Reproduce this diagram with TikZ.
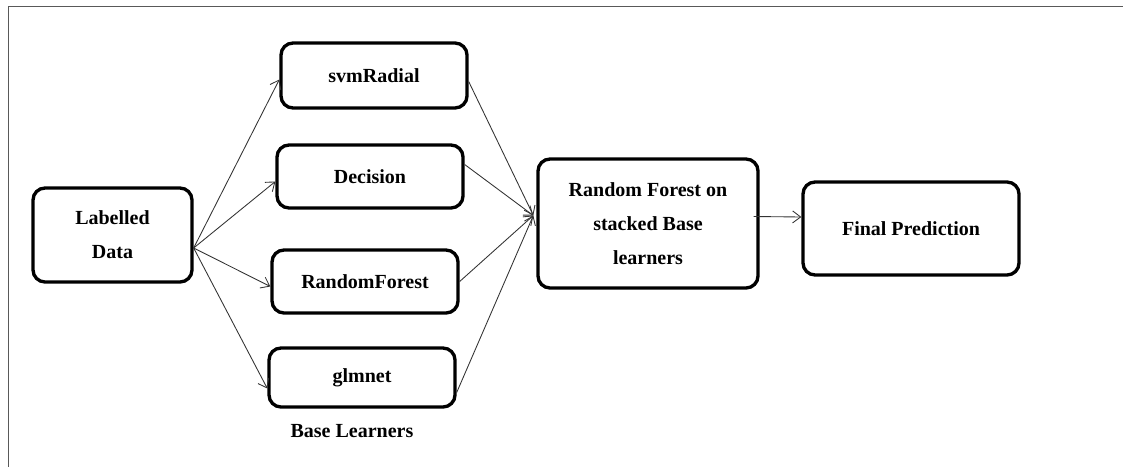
\documentclass[tikz,border=0pt]{standalone}
\usepackage{fontspec}
\setmainfont{Liberation Serif}
\usetikzlibrary{arrows.meta}

\begin{document}
\begin{tikzpicture}[x=0.75pt,y=-0.75pt,
  box/.style={draw=black, line width=2.5pt, rounded corners=9pt, align=center,
    font=\fontsize{15}{25.5}\selectfont\bfseries, inner sep=0pt},
  link/.style={draw=black!80, line width=0.65pt, -{Straight Barb[length=6pt,width=9pt,line width=0.65pt]}},
  frameline/.style={draw=black!65, line width=1.2pt}]
  \useasboundingbox (0,0) rectangle (1123,467);

  % outer frame (top and left edges)
  \draw[frameline] (8.5,467) -- (8.5,6.5) -- (1123,6.5);

  % input data
  \node[box, minimum width=159*0.75pt, minimum height=94*0.75pt] (ld) at (112.5,235) {Labelled\\Data};

  % base learners
  \node[box, minimum width=186*0.75pt, minimum height=65*0.75pt] (svm) at (374,75.5) {svmRadial};
  \node[box, minimum width=186*0.75pt, minimum height=63*0.75pt] (dec) at (370,176.5) {Decision};
  \node[box, minimum width=186*0.75pt, minimum height=63*0.75pt] (rf)  at (365,281.5) {RandomForest};
  \node[box, minimum width=186*0.75pt, minimum height=59*0.75pt] (glm) at (362,377.5) {glmnet};
  \node[font=\fontsize{15}{18}\selectfont\bfseries] (bl) at (352,431) {Base Learners};

  % meta learner and output
  \node[box, minimum width=220*0.75pt, minimum height=129*0.75pt] (stk) at (648,223.5)
    {Random Forest on\\stacked Base\\learners};
  \node[box, minimum width=216*0.75pt, minimum height=93*0.75pt] (fin) at (911,228.5) {Final Prediction};

  % connection points
  \coordinate (src) at ([yshift=-13*0.75pt]ld.east);
  \coordinate (sink) at ([xshift=-3*0.75pt, yshift=8*0.75pt]stk.west);

  \draw[link] (src) -- ([yshift=-4*0.75pt]svm.west);
  \draw[link] (src) -- ([yshift=-5*0.75pt]dec.west);
  \draw[link] (src) -- ([yshift=-5*0.75pt]rf.west);
  \draw[link] (src) -- ([yshift=-11*0.75pt]glm.west);

  \draw[link] ([yshift=-6*0.75pt]svm.east) -- (sink);
  \draw[link] ([yshift=12*0.75pt]dec.east) -- (sink);
  \draw[link] (rf.east) -- (sink);
  \draw[link] ([yshift=-15*0.75pt]glm.east) -- (sink);

  \draw[link] ([xshift=-6*0.75pt, yshift=7*0.75pt]stk.east) -- ([yshift=11.5*0.75pt]fin.west);
\end{tikzpicture}
\end{document}
